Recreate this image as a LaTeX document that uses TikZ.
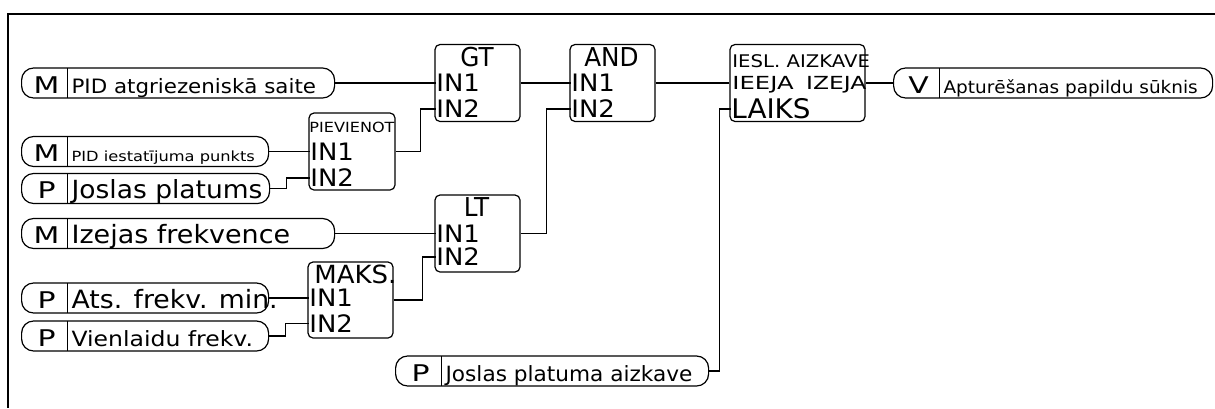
\documentclass[tikz,border=0pt]{standalone}
\usepackage{fontspec}
\setmainfont{DejaVu Sans}
\usepackage{graphicx}
\newcommand{\fsz}[1]{\fontsize{#1}{#1}\selectfont}
\newcommand{\wide}[2]{\scalebox{#1}[1]{#2}}
% width, letter, size, stretch, text
\newcommand{\pilltext}[5]{\makebox[#1][l]{\makebox[23pt]{\hspace{2pt}\fsz{11.5}\wide{1.3}{#2}}\hspace{2pt}\fsz{#3}\wide{#4}{#5}}}

\begin{document}
\begin{tikzpicture}[x=0.5pt,y=-0.5pt,
    wire/.style={line width=0.6pt},
    pill/.style={draw,line width=0.6pt,rounded corners=6pt,minimum height=15pt,inner sep=0pt,anchor=west,
      text height=10pt,text depth=0pt,
      path picture={\draw ([xshift=23pt]path picture bounding box.north west) -- ([xshift=23pt]path picture bounding box.south west);}},
    gate/.style={draw,line width=0.6pt,rounded corners=2.5pt,minimum width=42.5pt,minimum height=38.5pt,inner sep=0pt},
    pin/.style={inner sep=0pt,anchor=west,font=\fsz{12}},
    head/.style={inner sep=0pt,font=\fsz{13}}]
  \useasboundingbox (0,0) rectangle (1215,408);
  \draw[line width=1pt] (1215,13.5) -- (8,13.5) -- (8,408);

  % inputs
  \node[pill] (pidfb) at (21,83) {\pilltext{156.5pt}{M}{9.9}{1.08}{PID atgriezeniskā saite}};
  \node[pill] (pidsp) at (21,151.5) {\pilltext{123.5pt}{M}{7}{1.16}{PID iestatījuma punkts}};
  \node[pill] (band) at (21,188.5) {\pilltext{124pt}{P}{12.5}{1.06}{Joslas platums}};
  \node[pill] (fout) at (21,233.5) {\pilltext{156.5pt}{M}{12.6}{1.07}{Izejas frekvence}};
  \node[pill] (fmin) at (21,298) {\pilltext{123.5pt}{P}{12.6}{1.06}{Ats. frekv. min.}};
  \node[pill] (fcon) at (21,336) {\pilltext{123.5pt}{P}{10.5}{1.12}{Vienlaidu frekv.}};
  \node[pill] (bdel) at (395,371) {\pilltext{156.5pt}{P}{10.5}{1.03}{Joslas platuma aizkave}};

  % PIEVIENOT
  \node[gate,minimum width=43pt] (add) at (352,151.5) {};
  \node[head,font=\fsz{7}] at (352,127) {\wide{1.15}{PIEVIENOT}};
  \node[pin] (add1) at (310,151.5) {\wide{1.08}{IN1}};
  \node[pin] (add2) at (310,178) {\wide{1.08}{IN2}};

  % MAKS.
  \node[gate,minimum height=38pt] (max) at (350.5,300) {};
  \node[head,anchor=west,font=\fsz{12.5}] at (314,274) {\wide{1.04}{MAKS.}};
  \node[pin] (max1) at (309,298) {\wide{1.08}{IN1}};
  \node[pin] (max2) at (309,323.5) {\wide{1.08}{IN2}};

  % GT
  \node[gate] (gt) at (477.5,83) {};
  \node[head] at (477,57.5) {\wide{0.95}{GT}};
  \node[pin] (gt1) at (436,83) {\wide{1.08}{IN1}};
  \node[pin] (gt2) at (436,109) {\wide{1.08}{IN2}};

  % LT
  \node[gate] (lt) at (477.5,233.5) {};
  \node[head] at (476.5,207) {\wide{0.95}{LT}};
  \node[pin] (lt1) at (436,233.5) {\wide{1.08}{IN1}};
  \node[pin] (lt2) at (436,257) {\wide{1.08}{IN2}};

  % AND
  \node[gate] (and) at (612.5,83) {};
  \node[head] at (611.5,57.5) {\wide{0.95}{AND}};
  \node[pin] (and1) at (571,83) {\wide{1.08}{IN1}};
  \node[pin] (and2) at (571,109) {\wide{1.08}{IN2}};

  % IESL. AIZKAVE
  \node[gate,minimum width=67.5pt] (ondel) at (797.5,83) {};
  \node[head,anchor=west,font=\fsz{8.7}] at (732,61) {\wide{1.13}{IESL. AIZKAVE}};
  \node[head,anchor=west,font=\fsz{9}] (ondio) at (732,85) {\makebox[67pt]{\wide{1.35}{IEEJA}\hfill\wide{1.3}{IZEJA}}};
  \node[pin,font=\fsz{13.5}] (ondt) at (731,109) {\wide{1.03}{LAIKS}};

  % output
  \node[pill] (stop) at (893,83) {\pilltext{159.5pt}{V}{8.7}{1.06}{Apturēšanas papildu sūknis}};

  % wires
  \draw[wire] (pidfb.east) -- (gt1.west);
  \draw[wire] (pidsp.east) -- (add1.west);
  \draw[wire] (band.east) -- ++(16,0) |- (add2.west);
  \draw[wire] (add.east) -- ++(25,0) |- (gt2.west);
  \draw[wire] (fout.east) -- (lt1.west);
  \draw[wire] (fmin.east) -- (max1.west);
  \draw[wire] (fcon.east) -- ++(16,0) |- (max2.west);
  \draw[wire] (max.east) -- ++(29,0) |- (lt2.west);
  \draw[wire] (gt.east) -- (and1.west);
  \draw[wire] (lt.east) -- ++(26,0) |- (and2.west);
  \draw[wire] (and.east) -- (ondel.west);
  \draw[wire] (bdel.east) -- ++(10,0) |- (ondt.west);
  \draw[wire] (ondel.east) -- (stop.west);
\end{tikzpicture}
\end{document}
